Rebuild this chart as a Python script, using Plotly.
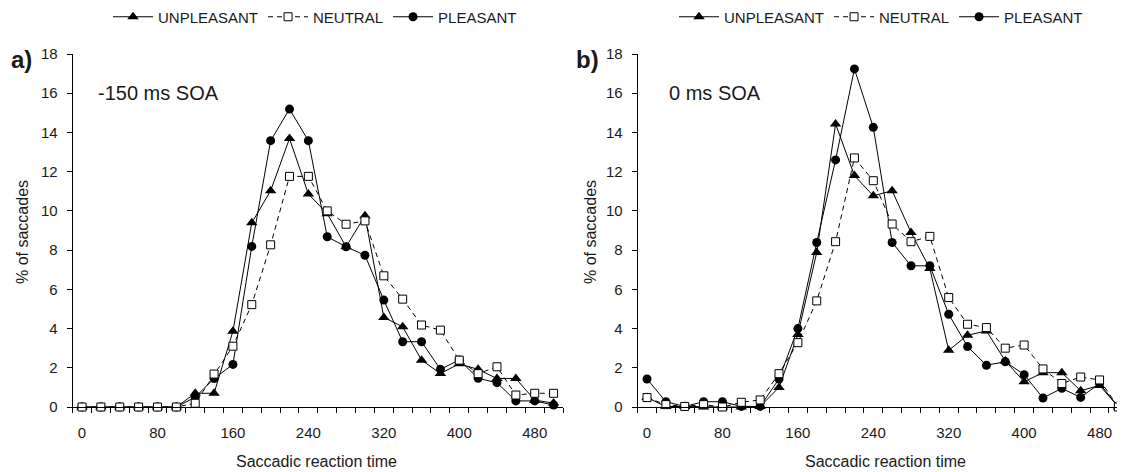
import plotly.graph_objects as go

# Saccadic reaction time bins (ms)
categories = [0, 20, 40, 60, 80, 100, 120, 140, 160, 180, 200, 220, 240, 260,
              280, 300, 320, 340, 360, 380, 400, 420, 440, 460, 480, 500]
tick_labels = [0, 80, 160, 240, 320, 400, 480]

# Panel a: -150 ms SOA
a_unpleasant = [0, 0, 0, 0, 0, 0, 0.7, 0.7, 3.86, 9.39, 11.03, 13.69, 10.86, 9.86,
                8.17, 9.75, 4.57, 4.09, 2.39, 1.71, 2.2, 1.92, 1.45, 1.45, 0.35, 0.2]
a_neutral = [0, 0, 0, 0, 0, 0, 0.19, 1.68, 3.1, 5.22, 8.27, 11.76, 11.76, 10.0,
             9.32, 9.49, 6.69, 5.5, 4.18, 3.92, 2.39, 1.7, 2.05, 0.61, 0.7, 0.7]
a_pleasant = [0, 0, 0, 0, 0, 0, 0.5, 1.45, 2.17, 8.19, 13.58, 15.19, 13.58, 8.68,
              8.17, 7.74, 5.45, 3.33, 3.33, 1.92, 2.4, 1.46, 1.24, 0.31, 0.31, 0.1]

# Panel b: 0 ms SOA
b_unpleasant = [0.48, 0.02, 0.03, 0, 0, 0, 0.03, 1.0, 3.7, 7.88, 14.43, 11.8, 10.77, 11.03,
                8.9, 7.06, 2.89, 3.66, 3.88, 2.35, 1.29, 1.75, 1.75, 0.83, 1.1, 0]
b_neutral = [0.48, 0.12, 0.03, 0.12, 0.0, 0.24, 0.36, 1.7, 3.28, 5.41, 8.43, 12.7, 11.54, 9.33,
             8.43, 8.7, 5.58, 4.22, 4.05, 3.0, 3.16, 1.94, 1.2, 1.53, 1.38, 0]
b_pleasant = [1.43, 0.27, 0.03, 0.27, 0.27, 0.03, 0.03, 1.43, 4.0, 8.39, 12.6, 17.24, 14.26, 8.39,
              7.2, 7.2, 4.73, 3.08, 2.13, 2.31, 1.65, 0.46, 0.95, 0.49, 1.2, 0]

series_names = ["UNPLEASANT", "NEUTRAL", "PLEASANT"]

FONT = "Arial, Liberation Sans, sans-serif"
TXT = "#1a1a1a"

styles = {
    "UNPLEASANT": dict(symbol="triangle-up", size=10, color="black", line=dict(width=0),
                       dash="solid", rank=1),
    "NEUTRAL": dict(symbol="square", size=8, color="white", line=dict(width=1, color="black"),
                    dash="5px,4px", rank=2),
    "PLEASANT": dict(symbol="circle", size=9, color="black", line=dict(width=0),
                     dash="solid", rank=3),
}

fig = go.Figure()

panels = [
    ("x", "y", "legend", {"UNPLEASANT": a_unpleasant, "NEUTRAL": a_neutral, "PLEASANT": a_pleasant}),
    ("x2", "y2", "legend2", {"UNPLEASANT": b_unpleasant, "NEUTRAL": b_neutral, "PLEASANT": b_pleasant}),
]

draw_order = ["UNPLEASANT", "PLEASANT", "NEUTRAL"]
for xa, ya, lg, data in panels:
    for name in draw_order:
        s = styles[name]
        fig.add_trace(go.Scatter(
            x=categories, y=data[name], name=name, mode="lines+markers",
            xaxis=xa, yaxis=ya, legend=lg, legendrank=s["rank"],
            line=dict(color="black", width=1, dash=s["dash"]),
            marker=dict(symbol=s["symbol"], size=s["size"], color=s["color"], line=s["line"]),
            cliponaxis=False,
        ))

# The page body adds an 8px offset; the figure is sized/positioned to compensate.
OFF = 8
W, H = 1125 - OFF, 472 - OFF
PLOT_TOP, PLOT_BOTTOM = 54 - OFF, 407 - OFF
MT, MB = PLOT_TOP, H - PLOT_BOTTOM
plot_h = PLOT_BOTTOM - PLOT_TOP

def fx(x_px):
    return (x_px - OFF) / W

def fy(y_px):
    return (PLOT_BOTTOM - (y_px - OFF)) / plot_h

minor_vals = [c - 10 for c in categories] + [categories[-1] + 10]

def xaxis_cfg(domain, rng):
    return dict(
        domain=domain, range=rng, showline=True, linecolor="black", linewidth=1,
        showgrid=False, zeroline=False, ticks="",
        tickmode="array", tickvals=tick_labels, ticktext=[str(t) for t in tick_labels],
        tickfont=dict(size=15, color=TXT, family=FONT), ticklabelstandoff=12,
        minor=dict(tickmode="array", tickvals=minor_vals, ticks="outside", ticklen=5,
                   tickcolor="black", tickwidth=1, showgrid=False),
        automargin=False,
    )

def yaxis_cfg(anchor):
    return dict(
        anchor=anchor, range=[0, 18], dtick=2, tick0=0, showline=True, linecolor="black",
        linewidth=1, showgrid=False, zeroline=False, ticks="outside", ticklen=5,
        tickcolor="black", tickfont=dict(size=15, color=TXT, family=FONT),
        ticklabelstandoff=6, automargin=False,
    )

legend_common = dict(orientation="h", font=dict(size=15, color=TXT, family=FONT),
                     xref="container", yref="container", yanchor="middle", xanchor="center",
                     bgcolor="rgba(0,0,0,0)", itemwidth=40, traceorder="normal",
                     tracegroupgap=0, itemclick=False)

fig.update_layout(
    width=W, height=H, margin=dict(l=0, r=0, t=MT, b=MB),
    paper_bgcolor="white", plot_bgcolor="white",
    font=dict(family=FONT, color=TXT),
    xaxis=xaxis_cfg([fx(72.6), fx(563)], [-10, 510]),
    yaxis=yaxis_cfg("x"),
    xaxis2=xaxis_cfg([fx(637.6), 1.0], [-10, 507]),
    yaxis2=yaxis_cfg("x2"),
    legend=dict(legend_common, x=fx(315), y=1 - (17 - OFF) / H),
    legend2=dict(legend_common, x=fx(881), y=1 - (17 - OFF) / H),
    showlegend=True,
)

ann = []
def add_text(x_px, y_px, text, size, bold=False, xanchor="center", angle=0):
    ann.append(dict(
        x=fx(x_px), y=fy(y_px), xref="paper", yref="paper",
        text=f"<b>{text}</b>" if bold else text,
        showarrow=False, xanchor=xanchor, yanchor="middle", textangle=angle,
        font=dict(size=size, color=TXT, family=FONT),
    ))

add_text(21, 60, "a)", 24, bold=True)
add_text(587, 60, "b)", 24, bold=True)
add_text(96, 93, "-150 ms SOA", 20, xanchor="left")
add_text(667, 93, "0 ms SOA", 20, xanchor="left")
add_text(316, 461, "Saccadic reaction time", 16)
add_text(885, 461, "Saccadic reaction time", 16)
add_text(22, 232, "% of saccades", 16, angle=-90)
add_text(590, 232, "% of saccades", 16, angle=-90)
fig.update_layout(annotations=ann)

fig.write_html("out.html")
